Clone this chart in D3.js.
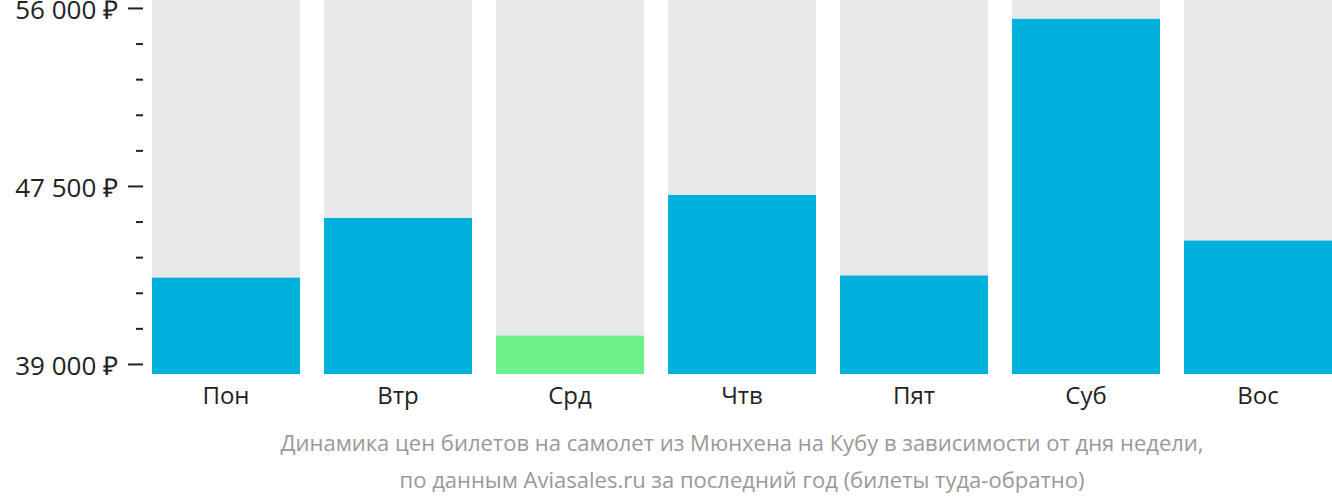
<!DOCTYPE html>
<html><head><meta charset="utf-8">
<script src="https://cdn.jsdelivr.net/npm/d3@7"></script>
<style>
html,body{margin:0;padding:0;background:#fff;}
svg{display:block;font-family:"Open Sans",sans-serif;}
</style></head>
<body><svg id="c" width="1332" height="502"></svg>
<script>
const days = ["Пон","Втр","Срд","Чтв","Пят","Суб","Вос"];
const prices = [43120, 45970, 40350, 47070, 43220, 55480, 44890];
const majorTicks = [39000, 47500, 56000];
const minorTicks = [40700, 42400, 44100, 45800, 49200, 50900, 52600, 54300];
const captionLines = [
  "Динамика цен билетов на самолет из Мюнхена на Кубу в зависимости от дня недели,",
  "по данным Aviasales.ru за последний год (билеты туда-обратно)"
];
const domainMin = 38520, domainMax = 56380;

const svg = d3.select("#c");
const x = d3.scaleBand().domain(days).range([152, 1332]).paddingInner(24/172).paddingOuter(0);
const y = d3.scaleLinear().domain([domainMin, domainMax]).range([374, 0]);
const minIdx = prices.indexOf(d3.min(prices));

svg.append("g").selectAll("rect").data(days).join("rect")
  .attr("x", d => x(d)).attr("width", x.bandwidth())
  .attr("y", y(domainMax)).attr("height", y(domainMin) - y(domainMax))
  .attr("fill", "#e8e8e8");

svg.append("g").selectAll("rect").data(prices).join("rect")
  .attr("x", (d,i) => x(days[i])).attr("width", x.bandwidth())
  .attr("y", d => y(d)).attr("height", d => y(domainMin) - y(d))
  .attr("fill", (d,i) => i === minIdx ? "#6df08a" : "#00b1dd");

const fmt = v => d3.format(",")(v).replace(/,/g, "\u00a0") + " ₽";

const yAxis = d3.axisLeft(y).tickValues(majorTicks).tickSize(15).tickPadding(10).tickFormat(fmt);
const ga = svg.append("g").attr("transform", "translate(143,0)").call(yAxis);
ga.select(".domain").remove();
ga.selectAll(".tick line").attr("stroke", "#222").attr("stroke-width", 2);
ga.selectAll(".tick text").attr("font-size", 26).attr("dy", "0.4em").attr("fill", "#222").attr("font-family", "Open Sans");

const yMinor = d3.axisLeft(y).tickValues(minorTicks).tickSize(7).tickFormat("");
const gm = svg.append("g").attr("transform", "translate(143,0)").call(yMinor);
gm.select(".domain").remove();
gm.selectAll(".tick line").attr("stroke", "#222").attr("stroke-width", 2);

const xAxis = d3.axisBottom(x).tickSize(0).tickPadding(13);
const gx = svg.append("g").attr("transform", "translate(0,374)").call(xAxis);
gx.select(".domain").remove();
gx.selectAll(".tick text").attr("font-size", 24).attr("fill", "#222").attr("font-family", "Open Sans");

svg.append("g").selectAll("text").data(captionLines).join("text")
  .attr("x", 742).attr("y", (d,i) => 451 + i*37)
  .attr("text-anchor", "middle").attr("font-size", 22).attr("fill", "#999")
  .text(d => d);
</script></body></html>
